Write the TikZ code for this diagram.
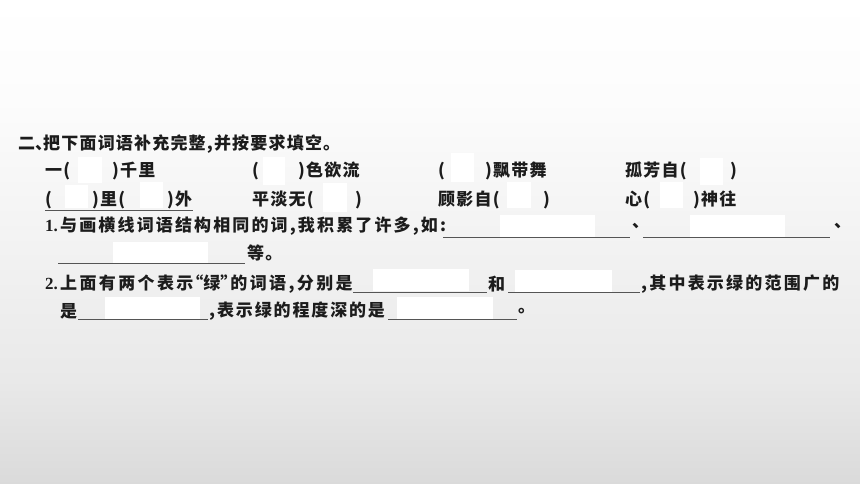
\documentclass[tikz,border=0pt]{standalone}
\usepackage{fontspec}
\newfontfamily\cjk[LetterSpace=7]{Noto Sans CJK SC}
\newfontfamily\numf{Liberation Serif}
\definecolor{textc}{RGB}{28,28,28}
\definecolor{linec}{RGB}{85,85,85}
\definecolor{bgA}{RGB}{255,255,255}
\definecolor{bgB}{RGB}{252,252,252}
\definecolor{bgC}{RGB}{233,233,233}
\definecolor{bgD}{RGB}{218,218,218}
\newcommand{\hw}[1]{\makebox[8pt][l]{#1}}
\newcommand{\myLq}{\makebox[10pt][r]{“}}
\newcommand{\myRq}{\makebox[10pt][l]{”}}
\begin{document}
\begin{tikzpicture}[x=1pt,y=-1pt,
  txt/.style={anchor=west,inner sep=0pt,text=textc,font=\cjk\bfseries\fontsize{17pt}{17pt}\selectfont},
  num/.style={anchor=west,inner sep=0pt,text=textc,font=\numf\bfseries\fontsize{17pt}{17pt}\selectfont},
  blank/.style={fill=white,draw=none},
  uline/.style={draw=linec,line width=0.8pt}]
\useasboundingbox (0,0) rectangle (860,484);
% background
\shade[top color=bgA,bottom color=bgB,draw=none] (0,0) rectangle (860,100);
\shade[top color=bgB,bottom color=bgC,draw=none] (0,100) rectangle (860,380);
\shade[top color=bgC,bottom color=bgD,draw=none] (0,380) rectangle (860,484.5);
% white blanks
\fill[blank] (78,157) rectangle (102,183);
\fill[blank] (263,157) rectangle (285,185);
\fill[blank] (451,153) rectangle (474,182);
\fill[blank] (700,158) rectangle (723,185);
\fill[blank] (65,185) rectangle (88,208);
\fill[blank] (140,182) rectangle (163,208);
\fill[blank] (323,183) rectangle (347,212);
\fill[blank] (507,182) rectangle (531,208);
\fill[blank] (660,182) rectangle (683,208);
\fill[blank] (500,215) rectangle (595,237);
\fill[blank] (690,215) rectangle (785,237);
\fill[blank] (113,242) rectangle (208,263);
\fill[blank] (373,269) rectangle (469,291);
\fill[blank] (515,270) rectangle (612,292);
\fill[blank] (105,297) rectangle (200,319);
\fill[blank] (397,297) rectangle (493,319);
% heading
\node[txt] (h) at (18,144) {二\hw{、}把下面词语补充完整,并按要求填空。};
% row 1
\node[txt] (a1) at (45,171) {一(};
\node[txt] (a2) at (112,171) {)千里};
\node[txt] (b1) at (252,171) {(};
\node[txt] (b2) at (298,171) {)色欲流};
\node[txt] (c1) at (438,171) {(};
\node[txt] (c2) at (485,171) {)飘带舞};
\node[txt] (d1) at (625,171) {孤芳自(};
\node[txt] (d2) at (730,171) {)};
% row 2
\node[txt] (e1) at (45,200) {(};
\node[txt] (e2) at (92,200) {)里(};
\node[txt] (e3) at (167,200) {)外};
\node[txt] (f1) at (252,200) {平淡无(};
\node[txt] (f2) at (355,200) {)};
\node[txt] (g1) at (438,200) {顾影自(};
\node[txt] (g2) at (543,200) {)};
\node[txt] (k1) at (625,200) {心(};
\node[txt] (k2) at (693,200) {)神往};
\coordinate (u0a) at (45,210); \coordinate (u0b) at (193,210);
\draw[uline] (u0a) -- (u0b);
% row 3
\node[num] (n1) at (45,226) {1.};
\node[txt] (q1) at (60,226) {\addfontfeature{LetterSpace=12.6}与画横线词语结构相同的词,我积累了许多,如:};
\coordinate (u1a) at (443,237); \coordinate (u1b) at (630,237);
\draw[uline] (u1a) -- (u1b);
\node[txt] (s1) at (632,226) {、};
\coordinate (u2a) at (643,237); \coordinate (u2b) at (830,237);
\draw[uline] (u2a) -- (u2b);
\node[txt] (s2) at (834,226) {、};
% row 4
\coordinate (u3a) at (58,263); \coordinate (u3b) at (245,263);
\draw[uline] (u3a) -- (u3b);
\node[txt] (deng) at (247,253) {等。};
% row 5
\node[num] (n2) at (45,284) {2.};
\node[txt] (q2a) at (60,284) {\addfontfeature{LetterSpace=14}上面有两个表示\myLq 绿\myRq 的词语,分别是};
\coordinate (u4a) at (353,292); \coordinate (u4b) at (487,292);
\draw[uline] (u4a) -- (u4b);
\node[txt] (he) at (488,284) {和};
\coordinate (u5a) at (508,292); \coordinate (u5b) at (640,292);
\draw[uline] (u5a) -- (u5b);
\node[txt] (q2b) at (641,284) {\addfontfeature{LetterSpace=13},其中表示绿的范围广的};
% row 6
\node[txt] (shi) at (60,311) {是};
\coordinate (u6a) at (78,319); \coordinate (u6b) at (208,319);
\draw[uline] (u6a) -- (u6b);
\node[txt] (q2c) at (209,311) {\addfontfeature{LetterSpace=11},表示绿的程度深的是};
\coordinate (u7a) at (388,319); \coordinate (u7b) at (517,319);
\draw[uline] (u7a) -- (u7b);
\node[txt] (end) at (518,311) {。};
\end{tikzpicture}
\end{document}
